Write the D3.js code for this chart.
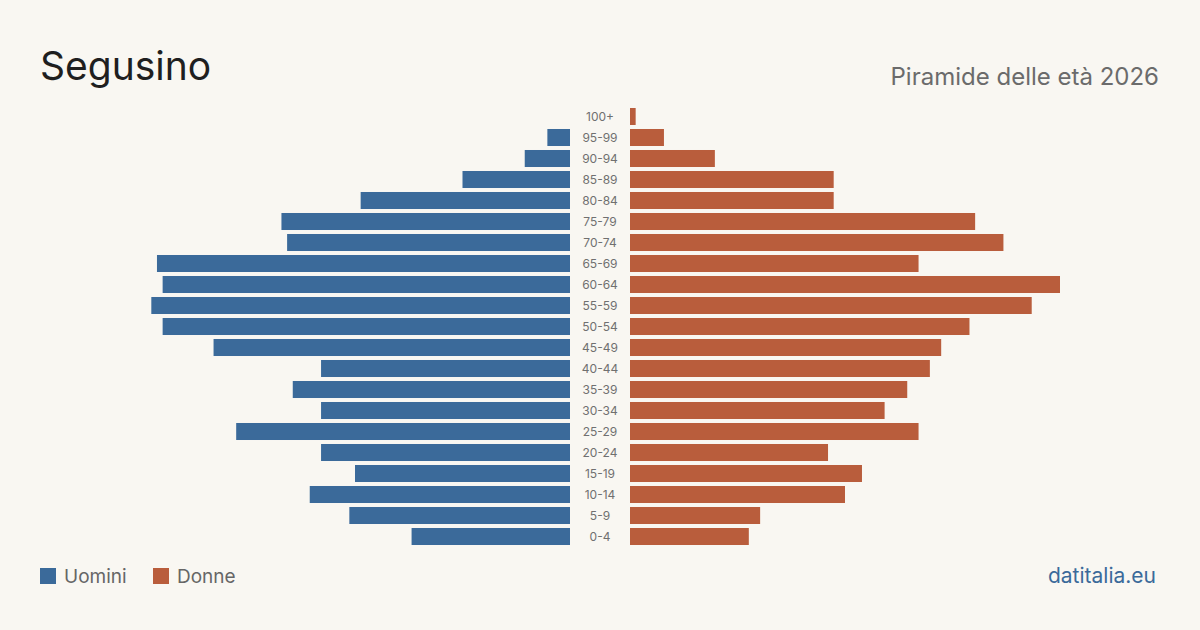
<!DOCTYPE html>
<html>
<head>
<meta charset="utf-8">
<script src="https://cdn.jsdelivr.net/npm/d3@7"></script>
<style>
  body { margin: 0; background: #f9f7f2; }
  text { font-family: Inter, "Noto Sans", sans-serif; }
</style>
</head>
<body>
<div id="chart"></div>
<script>
// age groups, top to bottom
var ageGroups = ["100+","95-99","90-94","85-89","80-84","75-79","70-74","65-69","60-64","55-59",
  "50-54","45-49","40-44","35-39","30-34","25-29","20-24","15-19","10-14","5-9","0-4"]
var men   = [0, 4, 8, 19, 37, 51, 50, 73, 72, 74, 72, 63, 44, 49, 44, 59, 44, 38, 46, 39, 28]
var women = [1, 6, 15, 36, 36, 61, 66, 51, 76, 71, 60, 55, 53, 49, 45, 51, 35, 41, 38, 23, 21]

var width = 1200, height = 630
var blue = "#3b6a9a", red = "#b95d3c"

var svg = d3.select("#chart")
  .append("svg")
  .attr("width", width)
  .attr("height", height)

svg.append("rect").attr("width", width).attr("height", height).attr("fill", "#f9f7f2")

// titles
svg.append("text")
  .attr("x", 40).attr("y", 80)
  .style("font-size", "39px")
  .attr("fill", "#1f1f1f")
  .text("Segusino")

svg.append("text")
  .attr("x", 1159).attr("y", 85)
  .attr("text-anchor", "end")
  .style("font-size", "24px")
  .attr("fill", "#6b6b6b")
  .text("Piramide delle età 2026")

// scales
var maxVal = d3.max(men.concat(women))
var y = d3.scaleBand()
  .domain(ageGroups)
  .range([106, 547])
  .paddingInner(0.19)
  .paddingOuter(0.095)

var xLeft = d3.scaleLinear().domain([0, maxVal]).range([570, 140])
var xRight = d3.scaleLinear().domain([0, maxVal]).range([630, 1060])

// men bars
svg.selectAll(".men")
  .data(ageGroups)
  .enter()
  .append("rect")
  .attr("class", "men")
  .attr("x", (d, i) => xLeft(men[i]))
  .attr("y", d => y(d))
  .attr("width", (d, i) => xLeft(0) - xLeft(men[i]))
  .attr("height", y.bandwidth())
  .attr("fill", blue)

// women bars
svg.selectAll(".women")
  .data(ageGroups)
  .enter()
  .append("rect")
  .attr("class", "women")
  .attr("x", xRight(0))
  .attr("y", d => y(d))
  .attr("width", (d, i) => xRight(women[i]) - xRight(0))
  .attr("height", y.bandwidth())
  .attr("fill", red)

// age labels
svg.selectAll(".age")
  .data(ageGroups)
  .enter()
  .append("text")
  .attr("class", "age")
  .attr("x", 600)
  .attr("y", d => y(d) + y.bandwidth() / 2)
  .attr("dy", "0.35em")
  .attr("text-anchor", "middle")
  .style("font-size", "12px")
  .attr("fill", "#707070")
  .text(d => d)

// legend
var legend = [{label: "Uomini", color: blue, x: 40}, {label: "Donne", color: red, x: 153}]
var lg = svg.selectAll(".legend")
  .data(legend)
  .enter()
  .append("g")
  .attr("transform", d => "translate(" + d.x + ",568)")
lg.append("rect")
  .attr("width", 16).attr("height", 16)
  .attr("fill", d => d.color)
lg.append("text")
  .attr("x", 24).attr("y", 15)
  .style("font-size", "19px")
  .attr("fill", "#666")
  .text(d => d.label)

svg.append("text")
  .attr("x", 1156).attr("y", 583)
  .attr("text-anchor", "end")
  .style("font-size", "21px")
  .attr("fill", blue)
  .text("datitalia.eu")
</script>
</body>
</html>
